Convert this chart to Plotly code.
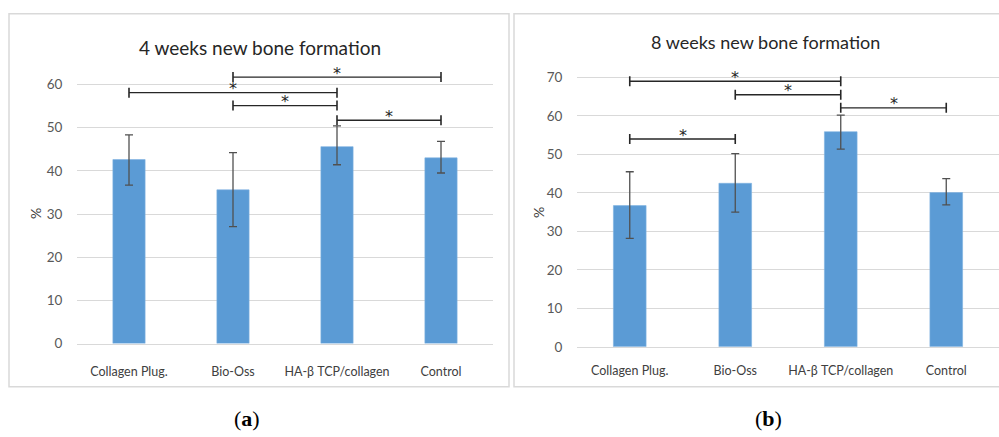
import plotly.graph_objects as go

# Groups compared in both time points
categories = ["Collagen Plug.", "Bio-Oss", "HA-β TCP/collagen", "Control"]

# New bone formation (%) at 4 weeks: mean and error (upper / lower)
week4_mean = [42.6, 35.6, 45.6, 43.0]
week4_err_plus = [5.7, 8.6, 4.8, 3.8]
week4_err_minus = [5.9, 8.5, 4.2, 3.5]

# New bone formation (%) at 8 weeks
week8_mean = [36.7, 42.5, 55.9, 40.1]
week8_err_plus = [8.8, 7.7, 4.3, 3.6]
week8_err_minus = [8.5, 7.5, 4.5, 3.2]

# Significant pairwise differences: (group a, group b, bracket level in %)
week4_pairs = [(1, 3, 61.7), (0, 2, 58.1), (1, 2, 55.1), (2, 3, 51.7)]
week8_pairs = [(0, 2, 69.0), (1, 2, 65.5), (2, 3, 62.1), (0, 1, 54.0)]

titles = ["4 weeks new bone formation", "8 weeks new bone formation"]
captions = ["a", "b"]

W, H = 999, 437
BAR_BLUE = "#5b9bd5"
GRID = "#d9d9d9"
TICK_FONT = "Lato"


def px_x(v):
    return v / W


def px_y(v):
    return 1 - v / H


fig = go.Figure()

panels = [
    dict(mean=week4_mean, ep=week4_err_plus, em=week4_err_minus, pairs=week4_pairs,
         xa="x", ya="y", xdom=(77, 493), ydom=(350, 59.6), yrange=(0, 66), xticklen=16,
         title_xy=(260, 48), title_size=19, pct_x=35, pct_y=218, cap_x=247),
    dict(mean=week8_mean, ep=week8_err_plus, em=week8_err_minus, pairs=week8_pairs,
         xa="x2", ya="y2", xdom=(577, 999), ydom=(353.3, 59.3), yrange=(0, 75), xticklen=12.5,
         title_xy=(765, 43), title_size=18, pct_x=538, pct_y=217, cap_x=768),
]

shapes = []
annotations = []

for k, p in enumerate(panels):
    fig.add_trace(go.Bar(
        x=categories, y=p["mean"], xaxis=p["xa"], yaxis=p["ya"],
        marker=dict(color=BAR_BLUE, line=dict(color="#7fb2e0", width=0.6)),
        error_y=dict(type="data", symmetric=False, array=p["ep"], arrayminus=p["em"],
                     color="#505050", thickness=1.3, width=4),
        showlegend=False, hoverinfo="skip",
    ))

    suffix = "" if k == 0 else "2"
    fig.update_layout(**{
        "xaxis" + suffix: dict(
            domain=[px_x(p["xdom"][0]), px_x(p["xdom"][1])], anchor=p["ya"],
            showgrid=False, showline=True, linecolor=GRID, linewidth=1.2,
            ticks="outside", ticklen=p["xticklen"], tickcolor="rgba(0,0,0,0)",
            tickfont=dict(family=TICK_FONT, size=12.5, color="#404040"),
            fixedrange=True,
        ),
        "yaxis" + suffix: dict(
            domain=[px_y(p["ydom"][0]), px_y(p["ydom"][1])], anchor=p["xa"],
            range=list(p["yrange"]), dtick=10, showgrid=True, gridcolor=GRID,
            gridwidth=1.2, zeroline=False, showline=False,
            ticks="outside", ticklen=11, tickcolor="rgba(0,0,0,0)",
            tickfont=dict(family=TICK_FONT, size=13.5, color="#595959"),
            fixedrange=True,
        ),
        "bargap": 0.69,
    })

    # significance brackets with end caps and asterisks
    for a, b, lvl in p["pairs"]:
        shapes.append(dict(type="line", xref=p["xa"], yref=p["ya"],
                           x0=categories[a], x1=categories[b], y0=lvl, y1=lvl,
                           line=dict(color="#262626", width=1.4)))
        for c in (a, b):
            shapes.append(dict(type="line", xref=p["xa"], yref=p["ya"],
                               ysizemode="pixel", yanchor=lvl, y0=-5, y1=5,
                               x0=categories[c], x1=categories[c],
                               line=dict(color="#262626", width=1.6)))
        annotations.append(dict(
            xref=p["xa"], yref=p["ya"], x=(a + b) / 2, y=lvl, text="*",
            showarrow=False, yanchor="middle", yshift=4,
            font=dict(family="DejaVu Sans", size=16, color="#262626"),
        ))

    annotations.append(dict(
        xref="paper", yref="paper", x=px_x(p["title_xy"][0]), y=px_y(p["title_xy"][1]),
        text=titles[k], showarrow=False, xanchor="center", yanchor="middle",
        font=dict(family=TICK_FONT, size=p["title_size"], color="#262626"),
    ))
    annotations.append(dict(
        xref="paper", yref="paper", x=px_x(p["pct_x"]), y=px_y(p["pct_y"]),
        text="%", textangle=-90, showarrow=False, xanchor="center", yanchor="middle",
        font=dict(family=TICK_FONT, size=14, color="#404040"),
    ))
    annotations.append(dict(
        xref="paper", yref="paper", x=px_x(p["cap_x"]), y=px_y(426),
        text="(<b>" + captions[k] + "</b>)", showarrow=False,
        xanchor="center", yanchor="middle",
        font=dict(family="Liberation Serif", size=22, color="#000000"),
    ))

# chart frames
shapes.append(dict(type="rect", xref="paper", yref="paper",
                   x0=px_x(9), x1=px_x(509), y0=px_y(394), y1=px_y(14),
                   line=dict(color=GRID, width=1.5), layer="below"))
shapes.append(dict(type="rect", xref="paper", yref="paper",
                   x0=px_x(514), x1=px_x(1010), y0=px_y(394), y1=px_y(14),
                   line=dict(color=GRID, width=1.5), layer="below"))

fig.update_layout(
    width=W, height=H, autosize=False,
    margin=dict(l=0, r=0, t=0, b=0),
    paper_bgcolor="white", plot_bgcolor="white",
    shapes=shapes, annotations=annotations,
)

fig.write_html("out.html", config={"displayModeBar": False})
